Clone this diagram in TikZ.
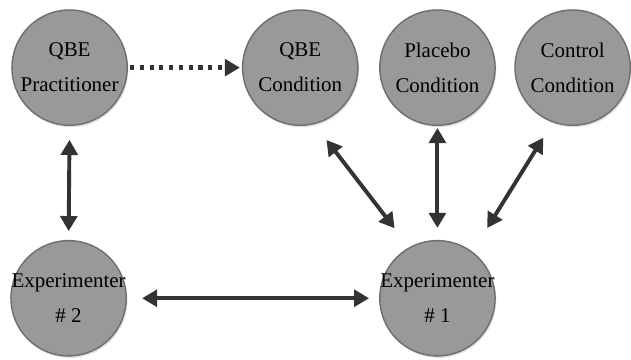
\documentclass[tikz,border=0pt]{standalone}
\usepackage{fontspec}
\setmainfont{Liberation Serif}
\usetikzlibrary{arrows.meta,shadows}

\definecolor{discfill}{HTML}{999999}
\definecolor{discline}{HTML}{6E6E6E}
\definecolor{arrowgray}{HTML}{333333}

\tikzset{
  disc/.style={circle,draw=discline,fill=discfill,line width=1pt,minimum size=2.9cm,inner sep=-1cm,
    align=center,font=\fontsize{15pt}{25pt}\selectfont,
    drop shadow={opacity=0.25,shadow xshift=0.03cm,shadow yshift=-0.05cm}},
  link/.style={draw=arrowgray,line width=2.8pt,{Triangle[length=0.38cm,width=0.42cm]}-{Triangle[length=0.38cm,width=0.42cm]}},
  hint/.style={draw=arrowgray,line width=3.2pt,dash pattern=on 3pt off 4pt,-{Triangle[length=0.38cm,width=0.42cm]}}
}

\begin{document}
\begin{tikzpicture}
\fill [color=white] (0, 0) rectangle (15.775, 9.05);

\node (prac) [disc] at (1.75, 7.35) {QBE\\Practitioner};
\node (qbec) [disc] at (7.55, 7.35) {QBE\\Condition};
\node (plac) [disc] at (11, 7.35) {Placebo\\Condition};
\node (ctrl) [disc] at (14.4, 7.35) {Control\\Condition};
\node (expb) [disc] at (1.725, 1.55) {Experimenter\\\#~2};
\node (expa) [disc] at (11, 1.55) {Experimenter\\\#~1};

\draw [hint,shorten <=0.05cm,shorten >=0.05cm] (prac.east) -- (qbec.west);
\draw [link,shorten <=0.35cm,shorten >=0.22cm] (prac.south) -- (expb.north);
\draw [link,shorten <=0.38cm,shorten >=0.25cm] (expb.east) -- (expa.west);
\draw [link,shorten <=0.5cm,shorten >=0.6cm] (qbec.-76) -- (expa.119);
\draw [link,shorten <=0.05cm,shorten >=0.3cm] (plac.south) -- (expa.north);
\draw [link,shorten <=0.45cm,shorten >=0.7cm] (ctrl.-110) -- (expa.53);
\end{tikzpicture}
\end{document}
